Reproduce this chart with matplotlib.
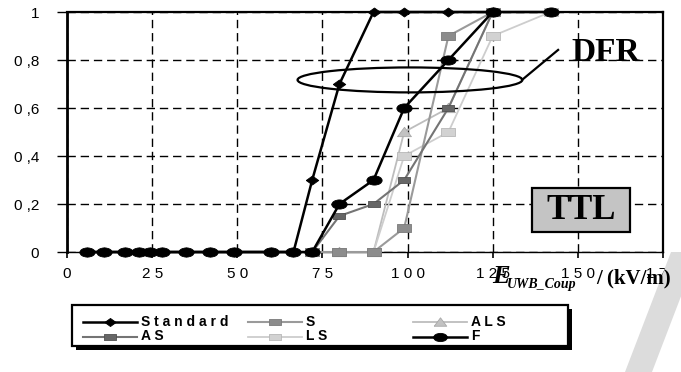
import numpy as np
import matplotlib
matplotlib.use("Agg")
import matplotlib.pyplot as plt
from matplotlib.path import Path
from matplotlib.transforms import Affine2D
from matplotlib.patches import Ellipse, Rectangle, Polygon

plt.rcParams["font.family"] = ["Liberation Sans", "DejaVu Sans"]

nan = np.nan

# Coupled UWB field strength (kV/m) and failure rate per test variant
field = [6, 11, 17, 21, 24.5, 28, 35, 42, 49, 60, 66.5, 72, 80, 90, 99, 112, 125, 142]
standard = [0, 0, 0, 0, 0, 0, 0, 0, 0, 0, 0, 0.3, 0.7, 1, 1, 1, 1, nan]
f_vals = [0, 0, 0, 0, 0, 0, 0, 0, 0, 0, 0, 0, 0.2, 0.3, 0.6, 0.8, 1, 1]
s_vals = [nan, nan, nan, nan, nan, nan, nan, nan, nan, nan, nan, 0, 0, 0, 0.1, 0.9, 1, nan]
as_vals = [nan, nan, nan, nan, nan, nan, nan, nan, nan, nan, nan, 0, 0.15, 0.2, 0.3, 0.6, 1, nan]
als_vals = [nan, nan, nan, nan, nan, nan, nan, nan, nan, nan, nan, 0, 0, 0, 0.5, 0.6, 1, nan]
ls_vals = [nan, nan, nan, nan, nan, nan, nan, nan, nan, nan, nan, 0, 0, 0, 0.4, 0.5, 0.9, 1]

x_ticks = [0, 25, 50, 75, 100, 125, 150, 175]
x_tick_labels = ["0", "2 5", "5 0", "7 5", "1 0 0", "1 2 5", "1 5 0", "1 7 5"]
y_ticks = [0, 0.2, 0.4, 0.6, 0.8, 1]
y_tick_labels = ["0", "0 ,2", "0 ,4", "0 ,6", "0 ,8", "1"]

# Marker shapes: flattened ellipse, flattened diamond, wide rectangle, triangle
ellipse_m = Path.unit_circle().transformed(Affine2D().scale(1, 0.6))
diamond_m = [(-1, 0), (0, 0.72), (1, 0), (0, -0.72), (-1, 0)]
rect_m = [(-1, -0.55), (1, -0.55), (1, 0.55), (-1, 0.55), (-1, -0.55)]
tri_m = [(-1, -0.6), (1, -0.6), (0, 0.75), (-1, -0.6)]

styles = {
    "Standard": dict(color="black", lw=1.8, marker=diamond_m, ms=9, mfc="black", mec="black"),
    "S": dict(color="#9a9a9a", lw=1.5, marker=rect_m, ms=10, mfc="#8c8c8c", mec="#7a7a7a"),
    "ALS": dict(color="#bdbdbd", lw=1.3, marker=tri_m, ms=10, mfc="#c2c2c2", mec="#a8a8a8"),
    "AS": dict(color="#747474", lw=1.5, marker=rect_m, ms=9, mfc="#666666", mec="#505050"),
    "LS": dict(color="#cdcdcd", lw=1.3, marker=rect_m, ms=10, mfc="#d2d2d2", mec="#b8b8b8"),
    "F": dict(color="black", lw=1.8, marker=ellipse_m, ms=11, mfc="black", mec="black"),
}

fig = plt.figure(figsize=(6.81, 3.72), dpi=100)
fig.patch.set_facecolor("white")
ax = fig.add_axes([67 / 681, 1 - 252 / 372, 596 / 681, 240 / 372])
ax.set_xlim(0, 175)
ax.set_ylim(0, 1)

ax.grid(True, color="black", lw=1.0, linestyle=(0, (6, 3.5)), zorder=1)
ax.set_axisbelow(True)

ax.set_xticks(x_ticks)
ax.set_xticklabels(x_tick_labels)
ax.set_yticks(y_ticks)
ax.set_yticklabels(y_tick_labels)
ax.tick_params(axis="y", direction="out", length=7, width=1, pad=13, labelsize=11)
ax.tick_params(axis="x", direction="out", length=4, width=1.2, pad=7, labelsize=11)

ax.spines["left"].set_linewidth(2.0)
ax.spines["top"].set_linewidth(1.6)
ax.spines["right"].set_linewidth(1.6)
ax.spines["bottom"].set_linewidth(1.0)

series = [
    ("ALS", als_vals, 3),
    ("LS", ls_vals, 3),
    ("S", s_vals, 4),
    ("AS", as_vals, 4),
    ("Standard", standard, 5),
    ("F", f_vals, 6),
]
for name, vals, z in series:
    st = styles[name]
    ax.plot(field, vals, color=st["color"], lw=st["lw"], marker=st["marker"],
            ms=st["ms"], mfc=st["mfc"], mec=st["mec"], mew=0.6,
            zorder=z, clip_on=False)

# DFR annotation: ellipse around the mid-transition points with a leader line
ax.add_patch(Ellipse((100.7, 0.717), 66, 0.104, fill=False, ec="black", lw=1.6, zorder=7))
ax.plot([133.6, 144.2], [0.717, 0.842], color="black", lw=1.6, zorder=7)
ax.text(158.3, 0.83, "DFR", ha="center", va="center", fontsize=24,
        fontweight="bold", family="Liberation Serif", zorder=8)

# TTL tag
ax.add_patch(Rectangle((136.4, 0.085), 28.9, 0.181, fc="#c4c4c4", ec="black",
                       lw=1.6, zorder=7))
ax.text(150.9, 0.172, "TTL", ha="center", va="center", fontsize=25,
        fontweight="bold", family="Liberation Serif", zorder=8)

# Overlay in pixel coordinates for axis title, legend and page stripe
ov = fig.add_axes([0, 0, 1, 1])
ov.set_xlim(0, 681)
ov.set_ylim(372, 0)
ov.axis("off")
ov.patch.set_visible(False)

ov.add_patch(Polygon([(671, 252), (698, 252), (652, 372), (625, 372)],
                     closed=True, fc="#dcdcdc", ec="none", zorder=0))

# Axis title: E with subscript, then unit
ov.text(492, 283, "E", fontsize=19, fontweight="bold", style="italic",
        family="Liberation Serif", ha="left", va="baseline", zorder=5)
ov.text(507, 288, "UWB_Coup", fontsize=10, fontweight="bold", style="italic",
        family="Liberation Serif", ha="left", va="baseline", zorder=5)
ov.text(596, 283, "/ (kV/m)", fontsize=15, fontweight="bold",
        family="Liberation Serif", ha="left", va="baseline", zorder=5)

# Legend box with drop shadow
ov.add_patch(Rectangle((76, 309), 496, 41, fc="black", ec="none", zorder=2))
ov.add_patch(Rectangle((72, 305), 496, 41, fc="white", ec="black", lw=1.6, zorder=3))

legend_rows = [
    [("Standard", "S t a n d a r d"), ("S", "S"), ("ALS", "A L S")],
    [("AS", "A S"), ("LS", "L S"), ("F", "F")],
]
col_x = [83, 248, 413]
row_y = [322, 336.5]
handle_len = 54
for r, row in enumerate(legend_rows):
    for c, (key, text) in enumerate(row):
        st = styles[key]
        x0 = col_x[c]
        y0 = row_y[r]
        ov.plot([x0, x0 + handle_len], [y0, y0], color=st["color"], lw=st["lw"], zorder=4)
        ov.plot([x0 + handle_len / 2], [y0], linestyle="none", marker=st["marker"],
                ms=st["ms"] * 0.9, mfc=st["mfc"], mec=st["mec"], mew=0.6, zorder=5)
        ov.text(x0 + handle_len + 4, y0, text, fontsize=10, fontweight="bold",
                ha="left", va="center", zorder=5)

fig.savefig("out.png", dpi=100)
